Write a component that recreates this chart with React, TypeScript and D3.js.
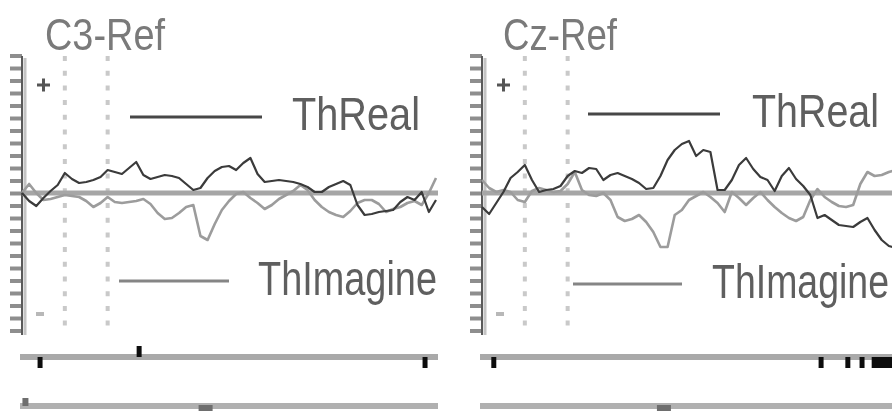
import React, { useEffect, useRef } from 'react';
import * as d3 from 'd3';

const WIDTH = 892;
const HEIGHT = 411;

// recording settings
const sampleMs = 25;
const startMs = -150;
const markerMs = [0, 150];
const yTicks = d3.range(-27.5, 27.6, 2.5);

const channels = ['C3-Ref', 'Cz-Ref'];
const seriesNames = ['ThReal', 'ThImagine'];

// averaged traces (uV), one value per sample
const c3Real = [0, -1.6, -2.6, -1, 0.4, 1.6, 4, 2.8, 2, 2.2, 2.6, 3.2, 4.6, 4.2, 3.8, 5, 6.2, 3.6, 2.8, 3.2,
  3.6, 3.4, 3, 1.8, 0.6, 1, 3, 4.4, 5.2, 5.4, 4.6, 6, 7, 3.8, 2.2, 2.4, 2.6, 2.4, 2.2, 1.8,
  1.2, 0.2, 0.2, 1.2, 1.8, 2.4, 1.6, -2.4, -4.4, -4.2, -3.8, -3.6, -3.4, -1.8, -0.8, -1.4, 0.2, -3.8, -1.4];
const c3Imagine = [0, 1.8, 0, -1.4, -1.2, -0.8, -0.4, -0.6, -0.8, -1.6, -2.8, -2, -0.8, -1.8, -2, -1.8, -1.6, -1.2, -2.2, -4,
  -5.2, -5, -4, -2.8, -2.4, -8.6, -9.4, -6.2, -3.4, -1.6, -0.2, 0.2, -1, -2, -3.2, -2.4, -1.2, -0.4, 0.4, 1.6,
  0.6, -1.4, -2.8, -3.8, -4.4, -4.8, -3.6, -2, -1.4, -1.4, -2.2, -3.8, -3.2, -2.8, -2, -1.6, -2.4, 0, 3];
const czReal = [-2.8, -4.2, -2, 0.2, 3, 4.2, 5.6, 2.6, 0.2, 0.6, 0.8, 1.4, 3.4, 4.4, 4, 5, 4.8, 2.6, 3.6, 4,
  3.4, 2.8, 2, 0.8, 1, 3.4, 6.6, 8.6, 9.8, 10.4, 7.4, 8.6, 8.2, 0.6, 0.6, 2.6, 5.6, 7, 4.8, 3.2,
  2.6, 0.4, 3.4, 5, 2.8, 1.4, -0.4, -5, -4.4, -5.4, -6.4, -6.6, -6.8, -5.8, -5, -7.4, -9.4, -10.6, -11];
const czImagine = [2.6, 1, 0.2, 0.6, 0.2, -1.4, -1.8, 0.4, 1, 0.6, 0.2, 0.4, 1.8, 4.2, 0.6, -0.4, -0.6, 0, -1.4, -4.8,
  -5.6, -5.2, -4.4, -5.8, -7.8, -10.8, -10.8, -4.4, -3.4, -1.4, -0.6, 0.2, -0.8, -2, -3.8, 0.2, -1, -2.4, -1, 0.2,
  -1.4, -2.8, -4, -5, -5.6, -4.8, -1.4, 0.8, -0.8, -1.8, -2.6, -2.8, -2.4, 1.8, 4.2, 3.4, 3.6, 4.2, 4.6];

// event track (% of recording), 1 = tick below, -1 = tick above
const c3EventPos = [4.8, 28.5, 96.9];
const c3EventSide = [1, -1, 1];
const czEventPos = [3.3, 81.6, 88, 91.4, 94.3, 95.2, 96.2, 97.2, 98.2, 99.2];
const czEventSide = [1, 1, 1, 1, 1, 1, 1, 1, 1, 1];
// overview scroll track (% of recording)
const c3ViewPos = [1.3, 44.4];
const c3ViewSide = [-1, 1];
const czViewPos = [44];
const czViewSide = [1];

const ZERO_Y = 193;
const PLOT_W = 414;
const TRACK_W = 418;
const FONT = 'Liberation Sans, Arial, sans-serif';

const panels = [
  {
    name: channels[0], real: c3Real, imagine: c3Imagine,
    eventPos: c3EventPos, eventSide: c3EventSide, viewPos: c3ViewPos, viewSide: c3ViewSide,
    x0: 22, title: [45, 120], realLeg: [130, 262, 117, 292, 128], imagLeg: [119, 229, 281, 258, 179]
  },
  {
    name: channels[1], real: czReal, imagine: czImagine,
    eventPos: czEventPos, eventSide: czEventSide, viewPos: czViewPos, viewSide: czViewSide,
    x0: 482, title: [503, 114], realLeg: [588, 720, 114, 752, 127], imagLeg: [573, 682, 284, 712, 177]
  }
];

// tall narrow text: natural width = width, cap height stretched to capH
const addText = (g, str, x, y, width, capH, em, fill) => {
  const size = width / em;
  const k = capH / (size * 0.716);
  g.append('text')
    .attr('transform', `translate(${x},${y}) scale(1,${k.toFixed(3)})`)
    .attr('font-family', FONT)
    .attr('font-size', size.toFixed(2))
    .attr('textLength', width)
    .attr('lengthAdjust', 'spacingAndGlyphs')
    .attr('fill', fill)
    .text(str);
};

const drawPanel = (g, p) => {
  const x = d3.scaleLinear()
    .domain([startMs, startMs + (p.real.length - 1) * sampleMs])
    .range([p.x0, p.x0 + PLOT_W]);
  const y = d3.scaleLinear().domain([-28, 28]).range([ZERO_Y + 140, ZERO_Y - 140]);
  const track = d3.scaleLinear().domain([0, 100]).range([p.x0 - 2, p.x0 - 2 + TRACK_W]);

  // title
  addText(g, p.name, p.title[0], 50, p.title[1], 32, p.name === 'C3-Ref' ? 3.167 : 3.111, '#7a7a7a');

  // y axis: dense ruler ticks
  const axis = d3.axisLeft(y).tickValues(yTicks).tickSize(12).tickFormat(() => '');
  const ag = g.append('g').attr('transform', `translate(${p.x0},0)`).call(axis);
  ag.select('.domain').remove();
  ag.selectAll('.tick line').attr('stroke', '#8e8e8e').attr('stroke-width', 4);
  g.append('line')
    .attr('x1', p.x0).attr('x2', p.x0).attr('y1', 56).attr('y2', 335)
    .attr('stroke', '#5a5a5a').attr('stroke-width', 2);
  g.append('line')
    .attr('x1', p.x0 + 3).attr('x2', p.x0 + 3).attr('y1', 58).attr('y2', 335)
    .attr('stroke', '#c4c4c4').attr('stroke-width', 3);

  // polarity signs
  g.append('path')
    .attr('d', `M${p.x0 + 15},85h13M${p.x0 + 21.5},78.5v13`)
    .attr('stroke', '#555').attr('stroke-width', 3);
  g.append('line')
    .attr('x1', p.x0 + 14).attr('x2', p.x0 + 22).attr('y1', 314).attr('y2', 314)
    .attr('stroke', '#b8b8b8').attr('stroke-width', 4);

  // stimulus markers
  g.selectAll('line.marker')
    .data(markerMs)
    .enter()
    .append('line')
    .attr('class', 'marker')
    .attr('x1', d => x(d)).attr('x2', d => x(d))
    .attr('y1', 56).attr('y2', 335)
    .attr('stroke', '#c9c9c9').attr('stroke-width', 4)
    .attr('stroke-dasharray', '5 9.7');

  // zero line
  g.append('line')
    .attr('x1', p.x0).attr('x2', p.x0 + PLOT_W + 2)
    .attr('y1', y(0)).attr('y2', y(0))
    .attr('stroke', '#a6a6a6').attr('stroke-width', 5);

  // traces
  const line = d3.line().x((d, i) => x(startMs + i * sampleMs)).y(d => y(d));
  g.append('path')
    .attr('d', line(p.imagine))
    .attr('fill', 'none').attr('stroke', '#9c9c9c').attr('stroke-width', 2.6)
    .attr('stroke-linejoin', 'round');
  g.append('path')
    .attr('d', line(p.real))
    .attr('fill', 'none').attr('stroke', '#3a3a3a').attr('stroke-width', 2.2)
    .attr('stroke-linejoin', 'round');

  // legend
  const [rx1, rx2, ry, rtx, rw] = p.realLeg;
  g.append('line').attr('x1', rx1).attr('x2', rx2).attr('y1', ry).attr('y2', ry)
    .attr('stroke', '#474747').attr('stroke-width', 3);
  addText(g, seriesNames[0], rtx, ry + 13, rw, 33, 3.223, '#5e5e5e');
  const [ix1, ix2, iy, itx, iw] = p.imagLeg;
  g.append('line').attr('x1', ix1).attr('x2', ix2).attr('y1', iy).attr('y2', iy)
    .attr('stroke', '#858585').attr('stroke-width', 3);
  addText(g, seriesNames[1], itx, iy + 14, iw, 34, 4.724, '#5e5e5e');

  // event track
  g.append('line')
    .attr('x1', track(0)).attr('x2', track(100)).attr('y1', 357).attr('y2', 357)
    .attr('stroke', '#a9a9a9').attr('stroke-width', 6);
  g.selectAll('rect.event')
    .data(p.eventPos)
    .enter()
    .append('rect')
    .attr('class', 'event')
    .attr('x', d => track(d) - 2.5)
    .attr('y', (d, i) => p.eventSide[i] > 0 ? 357 : 346)
    .attr('width', 5).attr('height', 11)
    .attr('fill', '#111');

  // overview track
  g.append('line')
    .attr('x1', track(0)).attr('x2', track(100)).attr('y1', 406).attr('y2', 406)
    .attr('stroke', '#b0b0b0').attr('stroke-width', 6);
  g.selectAll('rect.view')
    .data(p.viewPos)
    .enter()
    .append('rect')
    .attr('class', 'view')
    .attr('x', (d, i) => track(d) - (p.viewSide[i] > 0 ? 7 : 3))
    .attr('y', (d, i) => p.viewSide[i] > 0 ? 405 : 398)
    .attr('width', (d, i) => p.viewSide[i] > 0 ? 14 : 6)
    .attr('height', (d, i) => p.viewSide[i] > 0 ? 6 : 8)
    .attr('fill', '#6e6e6e');
};

const drawChart = (node) => {
  const svg = d3.select(node);
  svg.selectAll('*').remove();
  const defs = svg.append('defs');
  defs.append('filter').attr('id', 'soft')
    .attr('x', '-5%').attr('y', '-5%').attr('width', '110%').attr('height', '110%')
    .append('feGaussianBlur').attr('stdDeviation', 0.6);
  const root = svg.append('g').attr('filter', 'url(#soft)');
  root.append('rect').attr('width', WIDTH).attr('height', HEIGHT).attr('fill', '#fff');
  panels.forEach(p => drawPanel(root.append('g'), p));
};

export default function App() {
  const ref = useRef(null);

  useEffect(() => {
    drawChart(ref.current);
  }, []);

  return (
    <svg
      ref={ref}
      width={WIDTH}
      height={HEIGHT}
      style={{ position: 'absolute', left: 0, top: 0, display: 'block', background: '#fff' }}
    />
  );
}
